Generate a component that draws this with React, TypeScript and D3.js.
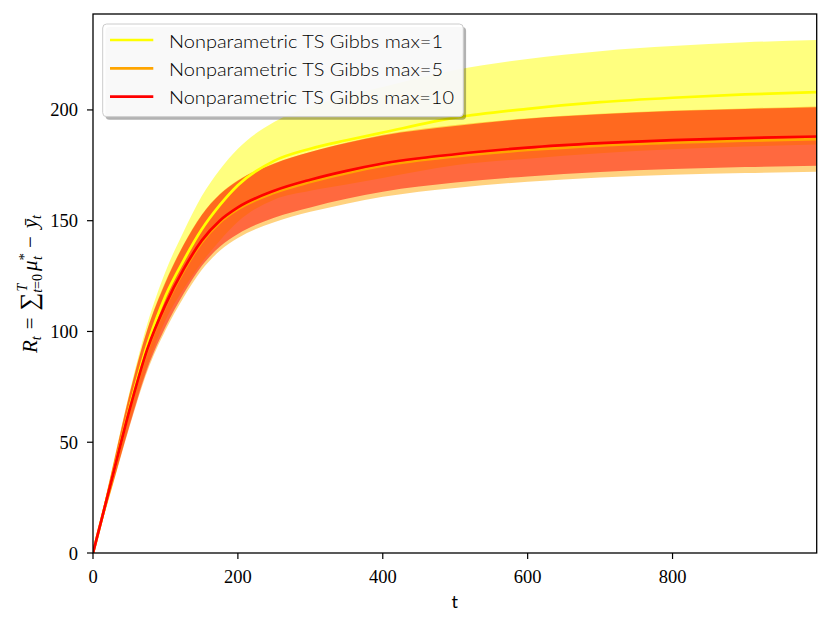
import React from "react";
import * as d3 from "d3";

const tVals = [0, 25, 50, 75, 100, 125, 150, 175, 200, 250, 300, 350, 400, 500, 600, 700, 800, 900, 999];
const yellowMean = [0, 32, 65, 94, 116, 132, 146, 157, 166, 177, 182.5, 186.3, 189.8, 196.5, 200.5, 203.5, 205.5, 207, 208];
const yellowHW = [0, 4, 7, 9.5, 11, 13, 15, 16, 16.5, 17.5, 19, 20, 20.5, 21.5, 22.5, 23, 23.3, 23.5, 23.6];
const orangeMean = [0, 32, 64, 91.5, 111.5, 127.3, 140.2, 149.2, 155.2, 162.6, 167.5, 171.5, 174.8, 179, 181.9, 183.9, 185.2, 186.1, 186.8];
const orangeHW = [0, 4, 7.5, 9.5, 11, 12, 12.5, 12.8, 13, 13.3, 13.5, 13.8, 14, 14.2, 14.3, 14.4, 14.5, 14.6, 14.7];
const redMean = [0, 32, 64, 92, 112, 128, 141, 150, 156, 163.5, 168.5, 172.5, 175.8, 180, 183, 185, 186.4, 187.3, 188];
const redHW = [0, 3.5, 7, 8.8, 10, 11, 11.5, 11.8, 12, 12.2, 12.5, 12.6, 12.7, 12.8, 13, 13, 13.1, 13.1, 13.2];

const seriesLabels = ["Nonparametric TS Gibbs max=1", "Nonparametric TS Gibbs max=5", "Nonparametric TS Gibbs max=10"];
const seriesColors = ["#ffff00", "#ffa500", "#ff0000"];
const xTicks = [0, 200, 400, 600, 800];
const yTicks = [0, 50, 100, 150, 200];

const W = 831, H = 626;
const L = 93, R = 816.7, T = 14, B = 553;

export default function App() {
  const x = d3.scaleLinear().domain([0, 999]).range([L, R]);
  const y = d3.scaleLinear().domain([0, 243.3]).range([B, T]);
  const means = [yellowMean, orangeMean, redMean];
  const hws = [yellowHW, orangeHW, redHW];

  const area = d3
    .area<number>()
    .x((_, i) => x(tVals[i]))
    .curve(d3.curveMonotoneX);
  const line = d3
    .line<number>()
    .x((_, i) => x(tVals[i]))
    .y((d) => y(d))
    .curve(d3.curveMonotoneX);

  const serif = "'Liberation Serif', 'DejaVu Serif', serif";
  const sans = "Lato, 'DejaVu Sans', sans-serif";

  const legendRows = [40, 68.3, 96.7];
  const legendWidths = [274, 274, 285];

  return (
    <svg width={W} height={H} style={{ position: "absolute", left: 0, top: 0, display: "block" }}>
      <rect x={0} y={0} width={W} height={H} fill="#ffffff" />
      <defs>
        <clipPath id="plotclip">
          <rect x={L} y={T} width={R - L} height={B - T} />
        </clipPath>
      </defs>
      <g clipPath="url(#plotclip)">
        {means.map((m, s) => {
          const a = area
            .y0((_, i) => y(m[i] - hws[s][i]))
            .y1((_, i) => y(m[i] + hws[s][i]));
          return <path key={"a" + s} d={a(m) || ""} fill={seriesColors[s]} fillOpacity={0.5} stroke="none" />;
        })}
        {means.map((m, s) => (
          <path key={"l" + s} d={line(m) || ""} fill="none" stroke={seriesColors[s]} strokeWidth={2.7} />
        ))}
      </g>
      {/* spines */}
      <rect x={L} y={T} width={R - L} height={B - T} fill="none" stroke="#000" strokeWidth={1.3} />
      {/* x ticks */}
      {xTicks.map((t) => (
        <g key={"xt" + t}>
          <line x1={x(t)} x2={x(t)} y1={B} y2={B + 6} stroke="#000" strokeWidth={1.2} />
          <text x={x(t)} y={583} textAnchor="middle" fontFamily={serif} fontSize={18.5} fill="#000">
            {t}
          </text>
        </g>
      ))}
      {yTicks.map((t) => (
        <g key={"yt" + t}>
          <line x1={L - 6} x2={L} y1={y(t)} y2={y(t)} stroke="#000" strokeWidth={1.2} />
          <text x={78} y={y(t) + 6.5} textAnchor="end" fontFamily={serif} fontSize={18.5} fill="#000">
            {t}
          </text>
        </g>
      ))}
      <text x={(L + R) / 2} y={608} textAnchor="middle" fontFamily={sans} fontSize={18} fill="#000">
        t
      </text>
      {/* y label */}
      <g transform={`translate(37, 284) rotate(-90)`}>
        <text textAnchor="middle" fontFamily={serif} fontSize={21} fill="#000">
          <tspan fontStyle="italic">R</tspan>
          <tspan fontStyle="italic" fontSize={14} dy={4}>t</tspan>
          <tspan dx={7} dy={-4}>=</tspan>
          <tspan dx={7} fontSize={25}>∑</tspan>
          <tspan fontStyle="italic" fontSize={14} dx={1} dy={-10}>T</tspan>
          <tspan fontSize={14} dx={-9} dy={15}><tspan fontStyle="italic">t</tspan>=0</tspan>
          <tspan fontStyle="italic" dx={3} dy={-5}>μ</tspan>
          <tspan fontSize={15} dy={-8}>*</tspan>
          <tspan fontStyle="italic" fontSize={14} dx={-7} dy={13}>t</tspan>
          <tspan dx={8} dy={-5}>−</tspan>
          <tspan fontStyle="italic" dx={8}>ȳ</tspan>
          <tspan fontStyle="italic" fontSize={14} dy={4}>t</tspan>
        </text>
      </g>
      {/* legend */}
      <rect x={105.5} y={27} width={360.6} height={92.7} rx={4} fill="#000" fillOpacity={0.3} />
      <rect x={102.7} y={24} width={360.6} height={92.7} rx={4} fill="#fff" fillOpacity={0.92} stroke="#cccccc" strokeWidth={1} />
      {seriesLabels.map((lab, i) => (
        <g key={"lg" + i}>
          <line x1={110} x2={153.3} y1={legendRows[i]} y2={legendRows[i]} stroke={seriesColors[i]} strokeWidth={2.7} />
          <text
            x={169}
            y={legendRows[i] + 7.5}
            fontFamily={sans}
            fontSize={18}
            fontWeight={300}
            fill="#000"
            textLength={legendWidths[i]}
            lengthAdjust="spacingAndGlyphs"
          >
            {lab}
          </text>
        </g>
      ))}
    </svg>
  );
}
